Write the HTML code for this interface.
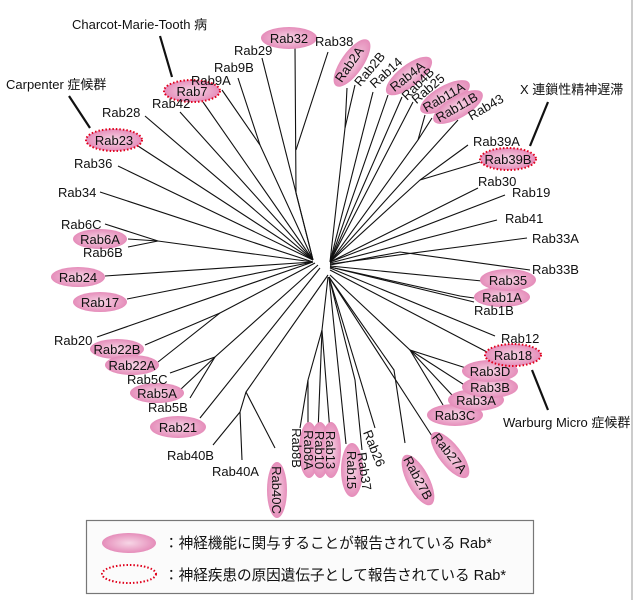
<!DOCTYPE html>
<html><head><meta charset="utf-8"><style>
html,body{margin:0;padding:0;background:#fff;}
svg{display:block;font-family:"Liberation Sans","Noto Sans CJK JP",sans-serif;}
text{font-size:13px;fill:#111;}
</style></head><body>
<svg width="635" height="600" viewBox="0 0 635 600">
<defs>
<radialGradient id="pg" cx="50%" cy="50%" r="50%">
<stop offset="0" stop-color="#f7d6e6"/><stop offset="1" stop-color="#e58dba"/>
</radialGradient>
</defs>
<line x1="632" y1="0" x2="632" y2="600" stroke="#999" stroke-width="1"/>
<g stroke="#111" stroke-width="1.1" fill="none">
<polyline points="295,47 296,193 313,260"/>
<polyline points="328,52 296,150"/>
<polyline points="262,58 313,260"/>
<polyline points="238,78 260,145"/><polyline points="222,90 260,145 313,260"/>
<polyline points="203,102 313,260"/>
<polyline points="180,112 313,260"/>
<polyline points="145,116 313,260"/>
<polyline points="138,146 313,260"/>
<polyline points="118,166 313,260"/>
<polyline points="100,192 313,262"/>
<polyline points="105,224 158,241"/><polyline points="128,239 158,241"/><polyline points="128,247 158,241 313,262"/>
<polyline points="105,276 313,262"/>
<polyline points="127,299 313,262"/>
<polyline points="97,337 313,262"/>
<polyline points="145,345 220,313"/><polyline points="158,362 220,313 315,263"/>
<polyline points="170,373 215,357"/><polyline points="180,390 215,357"/><polyline points="190,398 215,357 318,265"/>
<polyline points="200,418 320,268"/>
<polyline points="213,445 240,412"/><polyline points="242,460 240,412 246,392 328,275"/><polyline points="275,448 246,392"/>
<polyline points="300,428 308,380"/><polyline points="308,432 308,380"/><polyline points="318,432 322,330"/><polyline points="330,432 322,330 328,277"/>
<polyline points="308,380 322,330"/>
<polyline points="346,444 329,277"/>
<polyline points="362,450 355,380 329,277"/>
<polyline points="375,428 329,277"/>
<polyline points="405,443 394,370 329,277"/>
<polyline points="432,436 329,277"/>
<polyline points="443,405 410,350"/><polyline points="452,395 410,350"/><polyline points="466,386 410,350"/><polyline points="466,368 410,350 330,275"/>
<polyline points="487,352 330,270"/>
<polyline points="495,336 330,268"/>
<polyline points="474,298 460,296 330,267"/>
<polyline points="474,302 330,267"/>
<polyline points="482,281 330,266"/>
<polyline points="530,270 400,252 330,265"/>
<polyline points="527,238 330,264"/>
<polyline points="497,220 330,263"/>
<polyline points="505,195 330,262"/>
<polyline points="478,188 330,262"/>
<polyline points="480,162 420,180"/><polyline points="468,145 420,180 330,262"/>
<polyline points="458,120 330,262"/>
<polyline points="425,115 418,140"/><polyline points="432,118 418,140 330,262"/>
<polyline points="413,102 330,262"/>
<polyline points="402,97 330,262"/>
<polyline points="388,95 380,118 330,262"/>
<polyline points="373,92 330,262"/>
<polyline points="355,85 345,128"/><polyline points="347,88 345,128 330,262"/>
</g>
<g stroke="#111" stroke-width="2.2">
<line x1="160" y1="36" x2="172" y2="77"/>
<line x1="69" y1="96" x2="90" y2="128"/>
<line x1="548" y1="102" x2="530" y2="146"/>
<line x1="532" y1="370" x2="548" y2="410"/>
</g>
<g fill="url(#pg)">
<ellipse cx="289" cy="38" rx="28" ry="11"/>
<ellipse cx="192" cy="91" rx="28" ry="11"/>
<ellipse cx="114" cy="140" rx="28" ry="11"/>
<ellipse cx="100" cy="239" rx="27" ry="10"/>
<ellipse cx="78" cy="277" rx="27" ry="10"/>
<ellipse cx="100" cy="302" rx="27" ry="10"/>
<ellipse cx="117" cy="349" rx="27" ry="10"/>
<ellipse cx="132" cy="365" rx="27" ry="10"/>
<ellipse cx="157" cy="393" rx="27" ry="10"/>
<ellipse cx="178" cy="427" rx="28" ry="11"/>
<ellipse cx="277" cy="490" rx="10" ry="28"/>
<ellipse cx="309" cy="450" rx="10" ry="28"/>
<ellipse cx="320" cy="450" rx="10" ry="28"/>
<ellipse cx="331" cy="450" rx="10" ry="28"/>
<ellipse cx="352" cy="470" rx="11" ry="27"/>
<ellipse cx="418" cy="480" rx="11" ry="28" transform="rotate(-28 418 480)"/>
<ellipse cx="450" cy="455" rx="11" ry="28" transform="rotate(-38 450 455)"/>
<ellipse cx="455" cy="415" rx="28" ry="11"/>
<ellipse cx="476" cy="400" rx="28" ry="11"/>
<ellipse cx="490" cy="387" rx="28" ry="11"/>
<ellipse cx="490" cy="371" rx="28" ry="11"/>
<ellipse cx="513" cy="355" rx="28" ry="11"/>
<ellipse cx="502" cy="297" rx="28" ry="10"/>
<ellipse cx="508" cy="280" rx="28" ry="11"/>
<ellipse cx="508" cy="159" rx="28" ry="11"/>
<ellipse cx="352" cy="63" rx="28" ry="11" transform="rotate(-55 352 63)"/>
<ellipse cx="409" cy="76" rx="28" ry="11" transform="rotate(-38 409 76)"/>
<ellipse cx="445" cy="97" rx="28" ry="11" transform="rotate(-30 445 97)"/>
<ellipse cx="458" cy="107" rx="28" ry="11" transform="rotate(-30 458 107)"/>
</g>
<g fill="none" stroke="#e0001b" stroke-width="2" stroke-dasharray="1.5 2">
<ellipse cx="192" cy="91" rx="28" ry="11"/>
<ellipse cx="114" cy="140" rx="28" ry="11"/>
<ellipse cx="508" cy="159" rx="28" ry="11"/>
<ellipse cx="513" cy="355" rx="28" ry="11"/>
</g>
<g>
<text x="72" y="29">Charcot-Marie-Tooth 病</text>
<text x="6" y="89">Carpenter 症候群</text>
<text x="520" y="94">X 連鎖性精神遅滞</text>
<text x="503" y="427">Warburg Micro 症候群</text>
<text x="289" y="43" text-anchor="middle">Rab32</text>
<text x="315" y="46">Rab38</text>
<text x="234" y="55">Rab29</text>
<text x="214" y="72">Rab9B</text>
<text x="191" y="85">Rab9A</text>
<text x="192" y="96" text-anchor="middle">Rab7</text>
<text x="152" y="108">Rab42</text>
<text x="102" y="117">Rab28</text>
<text x="114" y="145" text-anchor="middle">Rab23</text>
<text x="74" y="168">Rab36</text>
<text x="58" y="197">Rab34</text>
<text x="61" y="229">Rab6C</text>
<text x="100" y="244" text-anchor="middle">Rab6A</text>
<text x="83" y="257">Rab6B</text>
<text x="78" y="282" text-anchor="middle">Rab24</text>
<text x="100" y="307" text-anchor="middle">Rab17</text>
<text x="54" y="345">Rab20</text>
<text x="117" y="354" text-anchor="middle">Rab22B</text>
<text x="132" y="370" text-anchor="middle">Rab22A</text>
<text x="127" y="384">Rab5C</text>
<text x="157" y="398" text-anchor="middle">Rab5A</text>
<text x="148" y="412">Rab5B</text>
<text x="178" y="432" text-anchor="middle">Rab21</text>
<text x="167" y="460">Rab40B</text>
<text x="212" y="476">Rab40A</text>
<text transform="translate(272 490) rotate(90)" text-anchor="middle">Rab40C</text>
<text transform="translate(292 448) rotate(90)" text-anchor="middle">Rab8B</text>
<text transform="translate(304 450) rotate(90)" text-anchor="middle">Rab8A</text>
<text transform="translate(315 450) rotate(90)" text-anchor="middle">Rab10</text>
<text transform="translate(326 450) rotate(90)" text-anchor="middle">Rab13</text>
<text transform="translate(347 470) rotate(90)" text-anchor="middle">Rab15</text>
<text transform="translate(360 472) rotate(82)" text-anchor="middle">Rab37</text>
<text transform="translate(370 450) rotate(68)" text-anchor="middle">Rab26</text>
<text transform="translate(414 480) rotate(62)" text-anchor="middle">Rab27B</text>
<text transform="translate(446 456) rotate(52)" text-anchor="middle">Rab27A</text>
<text x="455" y="420" text-anchor="middle">Rab3C</text>
<text x="476" y="405" text-anchor="middle">Rab3A</text>
<text x="490" y="392" text-anchor="middle">Rab3B</text>
<text x="490" y="376" text-anchor="middle">Rab3D</text>
<text x="513" y="360" text-anchor="middle">Rab18</text>
<text x="501" y="343">Rab12</text>
<text x="474" y="315">Rab1B</text>
<text x="502" y="302" text-anchor="middle">Rab1A</text>
<text x="508" y="285" text-anchor="middle">Rab35</text>
<text x="532" y="274">Rab33B</text>
<text x="532" y="243">Rab33A</text>
<text x="505" y="223">Rab41</text>
<text x="512" y="197">Rab19</text>
<text x="478" y="186">Rab30</text>
<text x="508" y="164" text-anchor="middle">Rab39B</text>
<text x="473" y="146">Rab39A</text>
<text transform="translate(353 67) rotate(-55)" text-anchor="middle">Rab2A</text>
<text transform="translate(373 72) rotate(-50)" text-anchor="middle">Rab2B</text>
<text transform="translate(389 76) rotate(-42)" text-anchor="middle">Rab14</text>
<text transform="translate(410 80) rotate(-38)" text-anchor="middle">Rab4A</text>
<text transform="translate(421 87) rotate(-45)" text-anchor="middle">Rab4B</text>
<text transform="translate(431 92) rotate(-40)" text-anchor="middle">Rab25</text>
<text transform="translate(446 101) rotate(-30)" text-anchor="middle">Rab11A</text>
<text transform="translate(459 111) rotate(-30)" text-anchor="middle">Rab11B</text>
<text transform="translate(488 111) rotate(-30)" text-anchor="middle">Rab43</text>
</g>
<rect x="86.5" y="520.5" width="447" height="73" fill="#fbfbfb" stroke="#777" stroke-width="1.2"/>
<ellipse cx="129" cy="543" rx="27" ry="10" fill="url(#pg)"/>
<ellipse cx="129" cy="574" rx="27" ry="9" fill="none" stroke="#e0001b" stroke-width="2" stroke-dasharray="1.5 2"/>
<text x="164" y="548" style="font-size:14.6px">：神経機能に関与することが報告されている Rab*</text>
<text x="164" y="580" style="font-size:14.6px">：神経疾患の原因遺伝子として報告されている Rab*</text>
</svg>
</body></html>
